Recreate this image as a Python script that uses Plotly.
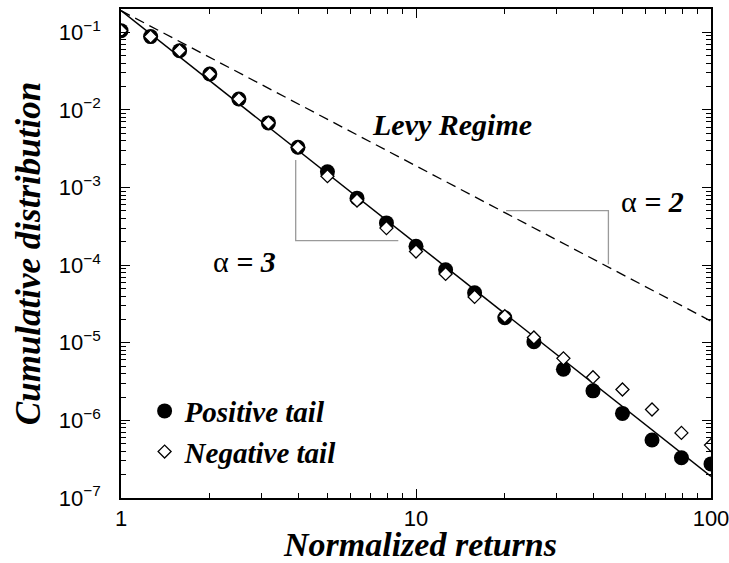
import plotly.graph_objects as go
import numpy as np

# ---- data ----
returns = [1, 1.26, 1.58, 2, 2.51, 3.16, 3.98, 5.01, 6.31, 7.94, 10,
           12.6, 15.8, 20, 25.1, 31.6, 39.8, 50.1, 63.1, 79.4, 100]
positive_tail = [0.105, 0.088, 0.058, 0.029, 0.0138, 0.0068, 0.0033, 0.0016,
                 7.3e-4, 3.5e-4, 1.75e-4, 8.7e-5, 4.4e-5, 2.1e-5, 1.03e-5,
                 4.55e-6, 2.4e-6, 1.23e-6, 5.6e-7, 3.3e-7, 2.75e-7]
negative_tail = [0.105, 0.088, 0.058, 0.029, 0.0138, 0.0068, 0.0033, 0.0014,
                 6.8e-4, 3.0e-4, 1.5e-4, 7.7e-5, 3.9e-5, 2.2e-5, 1.17e-5,
                 6.3e-6, 3.6e-6, 2.5e-6, 1.38e-6, 6.9e-7, 4.8e-7]

fit_amplitude = 0.19
alpha_fit = 3      # solid line
alpha_levy = 2     # dashed line (Levy regime)
line_x = [1, 100]

# slope guides (gray)
guide3_x = [3.91, 3.91, 8.71]
guide3_y = [2.27e-3, 2.07e-4, 2.07e-4]
guide2_x = [20.2, 44.9, 44.9]
guide2_y = [5.03e-4, 5.03e-4, 1.03e-4]

ytick_vals = [1e-7, 1e-6, 1e-5, 1e-4, 1e-3, 1e-2, 1e-1]
ytick_text = ["10<sup>\u22127</sup>", "10<sup>\u22126</sup>", "10<sup>\u22125</sup>",
              "10<sup>\u22124</sup>", "10<sup>\u22123</sup>", "10<sup>\u22122</sup>",
              "10<sup>\u22121</sup>"]
xtick_vals = [1, 10, 100]
xtick_text = ["1", "10", "100"]

x_minor = [m * 10 ** d for d in range(0, 2) for m in range(2, 10)]
y_minor = [m * 10.0 ** d for d in range(-7, 0) for m in range(2, 10)]
y_minor = [v for v in y_minor if v < 0.199]

lx = np.array(line_x, dtype=float)
fit_y = fit_amplitude * lx ** (-alpha_fit)
levy_y = fit_amplitude * lx ** (-alpha_levy)

serif = "Liberation Serif"
sans = "Liberation Sans"

fig = go.Figure()
fig.add_trace(go.Scatter(x=line_x, y=levy_y, mode="lines", showlegend=False,
                         line=dict(color="black", width=1.3, dash="10px,6px")))
fig.add_trace(go.Scatter(x=line_x, y=fit_y, mode="lines", showlegend=False,
                         line=dict(color="black", width=1.5)))
fig.add_trace(go.Scatter(x=guide3_x, y=guide3_y, mode="lines", showlegend=False,
                         line=dict(color="#9a9a9a", width=1.3)))
fig.add_trace(go.Scatter(x=guide2_x, y=guide2_y, mode="lines", showlegend=False,
                         line=dict(color="#9a9a9a", width=1.3)))
fig.add_trace(go.Scatter(x=returns, y=positive_tail, mode="markers",
                         name="Positive tail",
                         marker=dict(symbol="circle", size=15, color="black",
                                     line=dict(width=0))))
fig.add_trace(go.Scatter(x=returns, y=negative_tail, mode="markers",
                         name="Negative tail",
                         marker=dict(symbol="diamond", size=10, color="white",
                                     line=dict(color="black", width=1.3))))

axis_common = dict(
    showgrid=False, zeroline=False, showline=True, linecolor="black", linewidth=1.5,
    mirror="ticks", ticks="inside", ticklen=9, tickwidth=1.2, tickcolor="black",
    tickfont=dict(family=sans, size=22, color="black"), automargin=False,
    ticklabeloverflow="allow",
)
fig.update_xaxes(type="log", range=[0, 2], tickmode="array", tickvals=xtick_vals,
                 ticktext=xtick_text, ticklabelstandoff=0,
                 minor=dict(tickmode="array", tickvals=x_minor, ticks="inside",
                            ticklen=5, tickwidth=1, tickcolor="black"),
                 **axis_common)
fig.update_yaxes(type="log", range=[-7, -0.70], tickmode="array", tickvals=ytick_vals,
                 ticktext=ytick_text, ticklabelstandoff=14,
                 minor=dict(tickmode="array", tickvals=y_minor, ticks="inside",
                            ticklen=5, tickwidth=1, tickcolor="black"),
                 title=dict(text="Cumulative distribution", standoff=8,
                            font=dict(family=serif, size=35, color="black",
                                      weight="bold", style="italic")),
                 **axis_common)

title_font = dict(family=serif, size=34, color="black", weight="bold", style="italic")
fig.add_annotation(x=0.507, y=-0.096, xref="paper", yref="paper", showarrow=False,
                   xanchor="center", yanchor="middle",
                   text="Normalized returns", font=title_font)

ann_font = dict(family=serif, size=30, color="black")
fig.add_annotation(x=1.122, y=-2.193, xref="x", yref="y", showarrow=False,
                   text="<b><i>Levy Regime</i></b>", font=ann_font)
fig.add_annotation(x=0.420, y=-3.958, xref="x", yref="y", showarrow=False,
                   text="\u03b1 <b><i>= 3</i></b>", font=ann_font)
fig.add_annotation(x=1.803, y=-3.185, xref="x", yref="y", showarrow=False,
                   text="\u03b1 <b><i>= 2</i></b>", font=ann_font)

fig.update_layout(
    width=729, height=563,
    margin=dict(l=121, r=18, t=9, b=65),
    paper_bgcolor="white", plot_bgcolor="white",
    legend=dict(x=0.04, y=0.23, xanchor="left", yanchor="top",
                bgcolor="rgba(0,0,0,0)", borderwidth=0, tracegroupgap=0,
                itemwidth=30,
                font=dict(family=serif, size=29, color="black",
                          weight="bold", style="italic")),
)

fig.write_html("out.html")
